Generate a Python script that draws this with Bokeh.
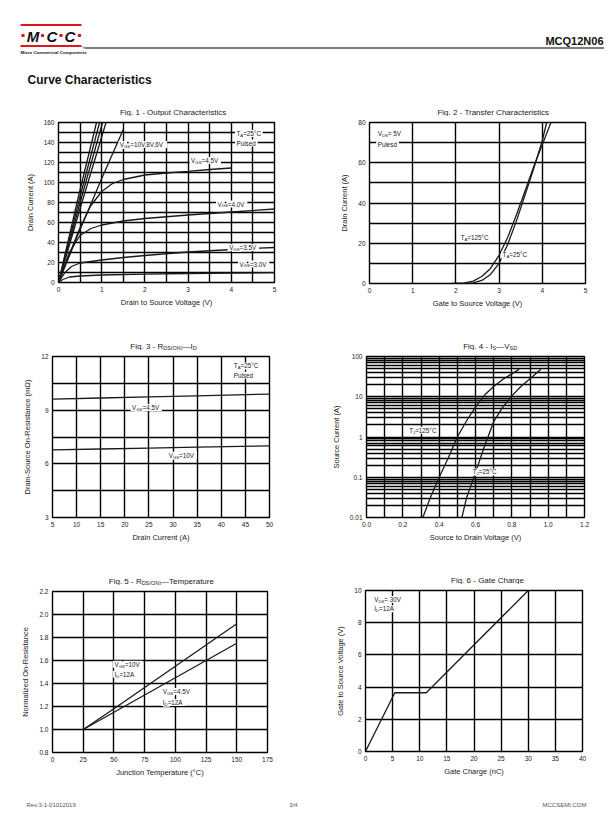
import math
from bokeh.plotting import figure
from bokeh.models import Range1d, Label, FixedTicker, BoxAnnotation, Spacer
from bokeh.layouts import column, row
from bokeh.embed import file_html
from bokeh.resources import INLINE

FONT = "Liberation Sans"
INK = "#1a1a1a"
RED = "#e3141b"

# ---------------- Fig 1 - Output characteristics ----------------
f1_xticks = [0, 1, 2, 3, 4, 5]
f1_xminor = [0.5, 1.5, 2.5, 3.5, 4.5]
f1_xlabels = ["0", "1", "2", "3", "4", "5"]
f1_yticks = [0, 20, 40, 60, 80, 100, 120, 140, 160]
f1_yminor = [10, 30, 50, 70, 90, 110, 130, 150]
f1_ylabels = ["0", "20", "40", "60", "80", "100", "120", "140", "160"]
f1_high_vds = [[0, 0.45, 0.88], [0, 0.5, 0.95], [0, 0.5, 1.02], [0, 0.5, 1.1], [0, 0.5, 1.0, 1.5]]
f1_high_id = [[0, 84, 160], [0, 86, 160], [0, 80, 160], [0, 74, 160], [0, 53, 104, 153]]
f1_45_vds = [0, 0.25, 0.5, 0.75, 1.0, 1.25, 1.5, 2.0, 2.5, 3.0, 3.5, 4.0]
f1_45_id = [0, 28, 55, 77, 91, 99, 103, 107.5, 109.5, 111.2, 113, 114.5]
f1_40_vds = [0, 0.25, 0.5, 0.75, 1.0, 1.5, 2.0, 3.0, 4.0, 5.0]
f1_40_id = [0, 30, 47, 54, 57.5, 61.5, 64, 67.5, 70.5, 73.5]
f1_35_vds = [0, 0.15, 0.3, 0.5, 1.0, 1.5, 2.0, 3.0, 4.0, 5.0]
f1_35_id = [0, 10, 16, 19.5, 22.5, 25, 27, 30.5, 33, 35]
f1_30_vds = [0, 0.1, 0.25, 0.5, 1.0, 2.0, 3.0, 4.0, 5.0]
f1_30_id = [0, 3, 5.5, 6.5, 7.5, 8.3, 9, 9.4, 9.8]

# ---------------- Fig 2 - Transfer characteristics ----------------
f2_xticks = [0, 1, 2, 3, 4, 5]
f2_xlabels = ["0", "1", "2", "3", "4", "5"]
f2_yticks = [0, 20, 40, 60, 80]
f2_yminor = [10, 30, 50, 70]
f2_ylabels = ["0", "20", "40", "60", "80"]
f2_125_vgs = [1.9, 2.2, 2.4, 2.6, 2.8, 3.0, 3.2, 3.4, 3.6, 3.8, 4.0, 4.2]
f2_125_id = [0, 0.3, 1.2, 3.5, 7.5, 14, 23, 34, 46, 58, 69, 80]
f2_25_vgs = [2.2, 2.4, 2.6, 2.8, 3.0, 3.2, 3.4, 3.6, 3.8, 4.0, 4.1]
f2_25_id = [0, 0.3, 1.5, 4.5, 10, 19.5, 31, 44, 57, 71, 80]

# ---------------- Fig 3 - RDS(ON) vs ID ----------------
f3_xticks = [5, 10, 15, 20, 25, 30, 35, 40, 45, 50]
f3_xlabels = ["5", "10", "15", "20", "25", "30", "35", "40", "45", "50"]
f3_yticks = [3, 6, 9, 12]
f3_yminor = [4.5, 7.5, 10.5]
f3_ylabels = ["3", "6", "9", "12"]
f3_id = [5, 15, 25, 35, 50]
f3_r45 = [9.62, 9.68, 9.74, 9.8, 9.9]
f3_r10 = [6.78, 6.83, 6.88, 6.93, 7.0]

# ---------------- Fig 4 - IS vs VSD ----------------
f4_xticks = [0.0, 0.2, 0.4, 0.6, 0.8, 1.0, 1.2]
f4_xminor = [0.1, 0.3, 0.5, 0.7, 0.9, 1.1]
f4_xlabels = ["0.0", "0.2", "0.4", "0.6", "0.8", "1.0", "1.2"]
f4_yticks = [0.01, 0.1, 1, 10, 100]
f4_ylabels = ["0.01", "0.1", "1", "10", "100"]
f4_yminor = [m * d for d in [0.01, 0.1, 1, 10] for m in [2, 3, 4, 5, 6, 7, 8, 9]]
f4_125_vsd = [0.31, 0.35, 0.40, 0.45, 0.50, 0.55, 0.60, 0.65, 0.70, 0.75, 0.80, 0.84]
f4_125_is = [0.01, 0.03, 0.1, 0.3, 1.0, 2.5, 5.5, 11, 18, 27, 37, 48]
f4_25_vsd = [0.525, 0.55, 0.60, 0.65, 0.70, 0.75, 0.80, 0.85, 0.90, 0.96]
f4_25_is = [0.01, 0.03, 0.13, 0.6, 2.4, 5.5, 10.5, 18, 28, 48]

# ---------------- Fig 5 - RDS(ON) vs temperature ----------------
f5_xticks = [0, 25, 50, 75, 100, 125, 150, 175]
f5_xlabels = ["0", "25", "50", "75", "100", "125", "150", "175"]
f5_yticks = [0.8, 1.0, 1.2, 1.4, 1.6, 1.8, 2.0, 2.2]
f5_ylabels = ["0.8", "1.0", "1.2", "1.4", "1.6", "1.8", "2.0", "2.2"]
f5_tj = [25, 50, 75, 100, 125, 150]
f5_r10 = [1.0, 1.18, 1.365, 1.55, 1.735, 1.92]
f5_r45 = [1.0, 1.15, 1.30, 1.45, 1.60, 1.75]

# ---------------- Fig 6 - Gate charge ----------------
f6_xticks = [0, 5, 10, 15, 20, 25, 30, 35, 40]
f6_xlabels = ["0", "5", "10", "15", "20", "25", "30", "35", "40"]
f6_yticks = [0, 2, 4, 6, 8, 10]
f6_ylabels = ["0", "2", "4", "6", "8", "10"]
f6_qg = [0, 5.4, 11.2, 30]
f6_vgs = [0, 3.65, 3.65, 10]

# ---------------- helpers ----------------
CW = {" ": 278, "-": 333, ".": 278, ",": 278, "=": 584, "(": 333, ")": 333, "°": 400,
      "—": 1000, "Ω": 768, "A": 667, "C": 722, "D": 722, "G": 778, "I": 278, "J": 500,
      "N": 722, "O": 778, "P": 667, "R": 722, "S": 667, "T": 611, "V": 667, "F": 611,
      "i": 222, "l": 222, "t": 278, "r": 333, "f": 278, "j": 222, "m": 833, "s": 500,
      "c": 500, "k": 500, "w": 722}


def text_w(s, size):
    return sum(CW.get(c, 556) for c in s) * size / 1000.0


def rich(p, x, y, parts, size=6.3, anchor="left", bg=True, color=INK):
    sub = size * 0.68
    sizes = [sub if s else size for _, s in parts]
    widths = [text_w(t, fs) for (t, _), fs in zip(parts, sizes)]
    total = sum(widths)
    start = {"left": 0.0, "center": -total / 2, "right": -total}[anchor]
    if bg:
        off = start
        for (t, s), fs, w in zip(parts, sizes, widths):
            n = int(math.ceil((w + 3.0) / (0.278 * fs)))
            p.add_layout(Label(x=x, y=y, x_offset=off - 1.5, y_offset=(-size * 0.3 if s else 0),
                               text=" " * n, text_font=FONT, text_font_size=f"{fs:.2f}px",
                               text_color="white", text_baseline="middle",
                               background_fill_color="white", background_fill_alpha=1.0))
            off += w
    off = start
    for (t, s), fs, w in zip(parts, sizes, widths):
        p.add_layout(Label(x=x, y=y, x_offset=off, y_offset=(-size * 0.3 if s else 0),
                           text=t, text_font=FONT, text_font_size=f"{fs:.2f}px",
                           text_color=color, text_baseline="middle"))
        off += w


def strip(w, h, yr):
    s = figure(width=w, height=h, x_range=Range1d(0, w), y_range=Range1d(*yr),
               min_border=0, toolbar_location=None, output_backend="svg",
               x_axis_location=None, y_axis_location=None)
    s.grid.visible = False
    s.outline_line_color = None
    return s


TOPB = 6


def chart(w, h, mbl, mbr, mbt, mbb, xr, yr, xt, xmin, xl, yt, ymin, yl, xtitle, ytitle,
          title_parts, ylog=False):
    ts = mbt - TOPB
    p = figure(width=w, height=h - ts, x_range=Range1d(*xr), y_range=Range1d(*yr),
               y_axis_type="log" if ylog else "linear",
               output_backend="svg", toolbar_location=None,
               min_border_left=mbl, min_border_right=mbr,
               min_border_top=TOPB, min_border_bottom=mbb)
    p.title.visible = False
    xtk = FixedTicker(ticks=xt, minor_ticks=xmin)
    ytk = FixedTicker(ticks=yt, minor_ticks=ymin)
    p.xaxis.ticker = xtk
    p.yaxis.ticker = ytk
    p.xgrid.ticker = xtk
    p.ygrid.ticker = ytk
    p.xaxis.major_label_overrides = dict(zip(xt, xl))
    p.yaxis.major_label_overrides = dict(zip(yt, yl))
    p.xaxis.axis_label = xtitle
    p.yaxis.axis_label = ytitle
    for ax in (p.xaxis, p.yaxis):
        ax.axis_line_color = None
        ax.major_tick_line_color = None
        ax.minor_tick_line_color = None
        ax.major_tick_out = 0
        ax.major_tick_in = 0
        ax.minor_tick_out = 0
        ax.minor_tick_in = 0
        ax.major_label_text_font = FONT
        ax.major_label_text_font_size = "6.5px"
        ax.major_label_text_color = INK
        ax.major_label_standoff = 4
        ax.axis_label_text_font = FONT
        ax.axis_label_text_font_size = "7.5px"
        ax.axis_label_text_font_style = "normal"
        ax.axis_label_text_color = INK
    p.xaxis.axis_label_standoff = 3
    p.yaxis.axis_label_standoff = 6
    for g in (p.xgrid, p.ygrid):
        g.grid_line_color = "black"
        g.grid_line_width = 1.4
        g.grid_line_alpha = 1.0
        g.minor_grid_line_color = "black"
        g.minor_grid_line_width = 1.4
    p.outline_line_color = "black"
    p.outline_line_width = 1.4
    p.outline_line_alpha = 1.0
    fw = w - mbl - mbr
    st = strip(w, ts, (ts, 0))
    rich(st, mbl + fw / 2, mbt - 10.5, title_parts, size=8, anchor="center", bg=False)
    return p, column(st, p)


def curve(p, x, y):
    p.line(x, y, line_color=INK, line_width=1.3)


# ---------------- header ----------------
header = figure(width=596, height=92, x_range=Range1d(8, 604), y_range=Range1d(100, 8),
                min_border=0, toolbar_location=None, output_backend="svg",
                x_axis_location=None, y_axis_location=None)
header.grid.visible = False
header.outline_line_color = None
header.add_layout(BoxAnnotation(left=20, right=81, top=23.5, bottom=25.5, fill_color=RED,
                                fill_alpha=1, line_color=None))
header.add_layout(BoxAnnotation(left=20, right=81, top=44.5, bottom=46.5, fill_color=RED,
                                fill_alpha=1, line_color=None))
header.add_layout(BoxAnnotation(left=84, right=604, top=47, bottom=48, fill_color="black",
                                fill_alpha=1, line_color=None))
header.scatter(x=[22.5, 42, 60.5, 79], y=[35, 35, 35, 35], marker="circle", size=3.6,
               fill_color=RED, line_color=None)
for lx, lt in [(32.5, "M"), (51.5, "C"), (69.5, "C")]:
    header.add_layout(Label(x=lx, y=35.5, text=lt, text_font=FONT, text_font_size="15px",
                            text_font_style="bold italic", text_color="#111",
                            text_align="center", text_baseline="middle"))
header.add_layout(Label(x=20, y=51.5, text="Micro Commercial Components", text_font=FONT,
                        text_font_size="4.4px", text_font_style="bold", text_color="#111",
                        text_baseline="middle"))
header.add_layout(Label(x=81.5, y=47.5, text="®", text_font=FONT, text_font_size="3.5px",
                        text_color="#111", text_baseline="middle"))
header.add_layout(Label(x=603, y=40, text="MCQ12N06", text_font=FONT, text_font_size="11px",
                        text_font_style="bold", text_color="#111", text_align="right",
                        text_baseline="middle"))
header.add_layout(Label(x=27, y=79, text="Curve Characteristics", text_font=FONT,
                        text_font_size="12px", text_font_style="bold", text_color="#111",
                        text_baseline="middle"))

# ---------------- charts ----------------
f1, c1 = chart(298, 230, 50, 32, 22, 48, (0, 5), (0, 160), f1_xticks, f1_xminor, f1_xlabels,
               f1_yticks, f1_yminor, f1_ylabels, "Drain to Source Voltage (V)", "Drain Current (A)",
               [("Fig. 1 - Output Characteristics", False)])
for xs, ys in zip(f1_high_vds, f1_high_id):
    curve(f1, xs, ys)
curve(f1, f1_45_vds, f1_45_id)
curve(f1, f1_40_vds, f1_40_id)
curve(f1, f1_35_vds, f1_35_id)
curve(f1, f1_30_vds, f1_30_id)
rich(f1, 4.12, 149, [("T", False), ("A", True), ("=25°C", False)])
rich(f1, 4.12, 139.5, [("Pulsed", False)])
rich(f1, 1.42, 138, [("V", False), ("GS", True), ("=10V,8V,6V", False)])
rich(f1, 3.07, 122, [("V", False), ("GS", True), ("=4.5V", False)])
rich(f1, 3.68, 78.5, [("V", False), ("GS", True), ("=4.0V", False)])
rich(f1, 3.95, 35, [("V", False), ("GS", True), ("=3.5V", False)])
rich(f1, 4.19, 18.5, [("V", False), ("GS", True), ("=3.0V", False)])

f2, c2 = chart(298, 230, 63, 19, 22, 47, (0, 5), (0, 80), f2_xticks, [], f2_xlabels,
               f2_yticks, f2_yminor, f2_ylabels, "Gate to Source Voltage (V)", "Drain Current (A)",
               [("Fig. 2 - Transfer Characteristics", False)])
curve(f2, f2_125_vgs, f2_125_id)
curve(f2, f2_25_vgs, f2_25_id)
rich(f2, 0.19, 74.3, [("V", False), ("DS", True), ("= 5V", False)])
rich(f2, 0.19, 69.3, [("Pulesd", False)])
rich(f2, 2.11, 22.8, [("T", False), ("A", True), ("=125°C", False)])
rich(f2, 3.08, 14.2, [("T", False), ("A", True), ("=25°C", False)])

f3, c3 = chart(298, 235, 44, 37, 26, 48, (5, 50), (3, 12), f3_xticks, [], f3_xlabels,
               f3_yticks, f3_yminor, f3_ylabels, "Drain Current (A)",
               "Drain-Source On-Resistance (mΩ)",
               [("Fig. 3 - R", False), ("DS(ON)", True), ("—I", False), ("D", True)])
curve(f3, f3_id, f3_r45)
curve(f3, f3_id, f3_r10)
rich(f3, 42.6, 11.47, [("T", False), ("A", True), ("=25°C", False)])
rich(f3, 42.6, 10.95, [("Pulsed", False)])
rich(f3, 21.5, 9.15, [("V", False), ("GS", True), ("=4.5V", False)])
rich(f3, 29.1, 6.48, [("V", False), ("GS", True), ("=10V", False)])

f4, c4 = chart(298, 235, 60, 20, 26, 48, (0, 1.2), (0.01, 100), f4_xticks, f4_xminor, f4_xlabels,
               f4_yticks, f4_yminor, f4_ylabels, "Source to Drain Voltage (V)", "Source Current (A)",
               [("Fig. 4 - I", False), ("S", True), ("—V", False), ("SD", True)], ylog=True)
curve(f4, f4_125_vsd, f4_125_is)
curve(f4, f4_25_vsd, f4_25_is)
rich(f4, 0.235, 1.48, [("T", False), ("J", True), ("=125°C", False)])
rich(f4, 0.585, 0.136, [("T", False), ("J", True), ("=25°C", False)])

f5, c5 = chart(298, 225, 44, 39, 26, 38, (0, 175), (0.8, 2.2), f5_xticks, [], f5_xlabels,
               f5_yticks, [], f5_ylabels, "Junction Temperature (°C)", "Normalized On-Resistance",
               [("Fig. 5 - R", False), ("DS(ON)", True), ("—Temperature", False)])
curve(f5, f5_tj, f5_r10)
curve(f5, f5_tj, f5_r45)
rich(f5, 50.5, 1.568, [("V", False), ("GS", True), ("=10V", False)])
rich(f5, 50.5, 1.481, [("I", False), ("D", True), ("=12A", False)])
rich(f5, 89.8, 1.33, [("V", False), ("GS", True), ("=4.5V", False)])
rich(f5, 89.8, 1.235, [("I", False), ("D", True), ("=12A", False)])

f6, c6 = chart(298, 225, 59, 22, 25, 39, (0, 40), (0, 10), f6_xticks, [], f6_xlabels,
               f6_yticks, [], f6_ylabels, "Gate Charge (nC)", "Gate to Source Voltage (V)",
               [("Fig. 6 - Gate Charge", False)])
curve(f6, f6_qg, f6_vgs)
rich(f6, 1.6, 9.44, [("V", False), ("DS", True), ("= 30V", False)])
rich(f6, 1.6, 8.86, [("I", False), ("D", True), ("=12A", False)])

# ---------------- footer ----------------
footer = figure(width=596, height=27, x_range=Range1d(8, 604), y_range=Range1d(817, 790),
                min_border=0, toolbar_location=None, output_backend="svg",
                x_axis_location=None, y_axis_location=None)
footer.grid.visible = False
footer.outline_line_color = None
footer.add_layout(Label(x=26, y=804, text="Rev.3-1-01012019", text_font=FONT,
                        text_font_size="6px", text_color="#555", text_baseline="middle"))
footer.add_layout(Label(x=293, y=804, text="3/4", text_font=FONT, text_font_size="6px",
                        text_color="#555", text_align="center", text_baseline="middle"))
footer.add_layout(Label(x=586, y=804, text="MCCSEMI.COM", text_font=FONT,
                        text_font_size="6px", text_color="#555", text_align="right",
                        text_baseline="middle"))

page = row(Spacer(width=8, height=8),
           column(Spacer(width=8, height=8), header, row(c1, c2), row(c3, c4), row(c5, c6), footer))

with open("out.html", "w") as fh:
    fh.write(file_html(page, INLINE))
